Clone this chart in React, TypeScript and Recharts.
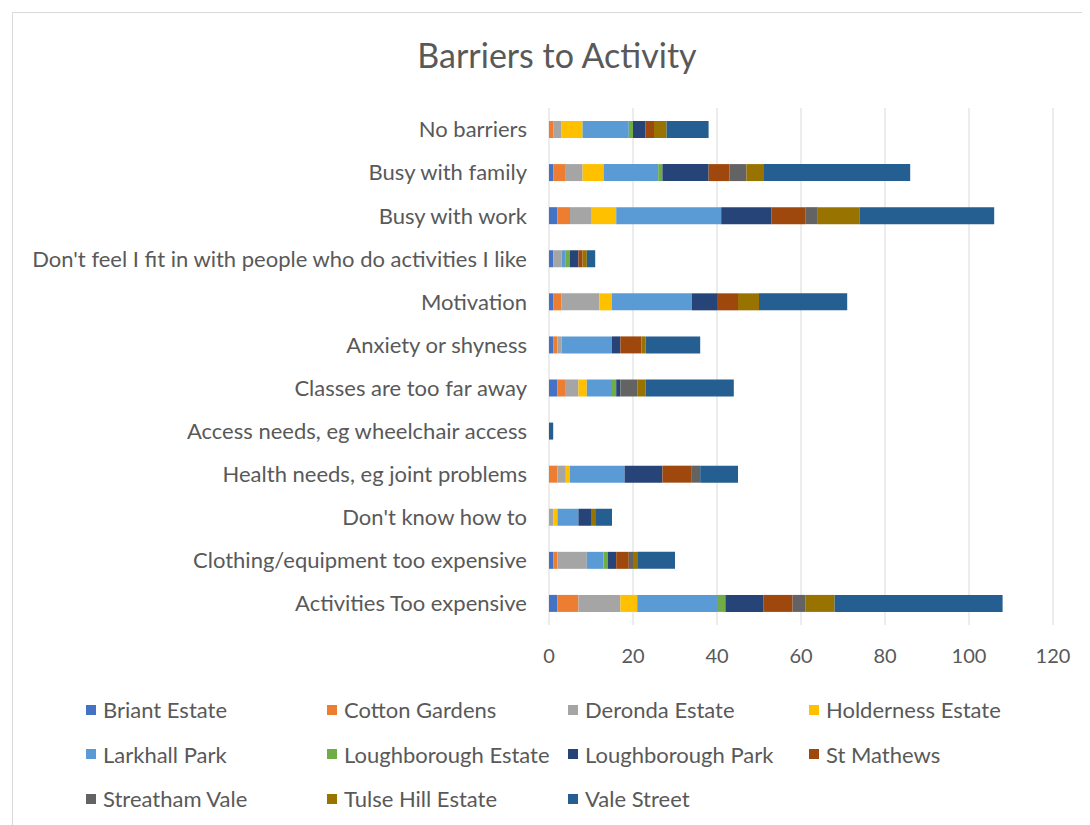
import React from 'react';
import { BarChart, Bar, XAxis, YAxis, CartesianGrid } from 'recharts';

const categories = [
  'No barriers',
  'Busy with family',
  'Busy with work',
  "Don't feel I fit in with people who do activities I like",
  'Motivation',
  'Anxiety or shyness',
  'Classes are too far away',
  'Access needs, eg wheelchair access',
  'Health needs, eg joint problems',
  "Don't know how to",
  'Clothing/equipment too expensive',
  'Activities Too expensive',
];

const briantEstate = [0, 1, 2, 1, 1, 1, 2, 0, 0, 0, 1, 2];
const cottonGardens = [1, 3, 3, 0, 2, 1, 2, 0, 2, 0, 1, 5];
const derondaEstate = [2, 4, 5, 2, 9, 1, 3, 0, 2, 1, 7, 10];
const holdernessEstate = [5, 5, 6, 0, 3, 0, 2, 0, 1, 1, 0, 4];
const larkhallPark = [11, 13, 25, 1, 19, 12, 6, 0, 13, 5, 4, 19];
const loughboroughEstate = [1, 1, 0, 1, 0, 0, 1, 0, 0, 0, 1, 2];
const loughboroughPark = [3, 11, 12, 2, 6, 2, 1, 0, 9, 3, 2, 9];
const stMathews = [2, 5, 8, 1, 5, 5, 0, 0, 7, 0, 3, 7];
const streathamVale = [0, 4, 3, 0, 0, 0, 4, 0, 2, 0, 1, 3];
const tulseHillEstate = [3, 4, 10, 1, 5, 1, 2, 0, 0, 1, 1, 7];
const valeStreet = [10, 35, 32, 2, 21, 13, 21, 1, 9, 4, 9, 40];

const xTicks = [0, 20, 40, 60, 80, 100, 120];

const series = [
  { name: 'Briant Estate', values: briantEstate, color: '#4472C4' },
  { name: 'Cotton Gardens', values: cottonGardens, color: '#ED7D31' },
  { name: 'Deronda Estate', values: derondaEstate, color: '#A5A5A5' },
  { name: 'Holderness Estate', values: holdernessEstate, color: '#FFC000' },
  { name: 'Larkhall Park', values: larkhallPark, color: '#5B9BD5' },
  { name: 'Loughborough Estate', values: loughboroughEstate, color: '#70AD47' },
  { name: 'Loughborough Park', values: loughboroughPark, color: '#264478' },
  { name: 'St Mathews', values: stMathews, color: '#9E480E' },
  { name: 'Streatham Vale', values: streathamVale, color: '#636363' },
  { name: 'Tulse Hill Estate', values: tulseHillEstate, color: '#997300' },
  { name: 'Vale Street', values: valeStreet, color: '#255E91' },
];

const data = categories.map((name, i) => {
  const row: Record<string, string | number> = { name };
  series.forEach(s => { row[s.name] = s.values[i]; });
  return row;
});

const font = 'Lato, "Open Sans", sans-serif';
const textColor = '#595959';

export default function App() {
  return <div style={{ position: 'relative', margin: '4px 0 0 4px', width: 1073, height: 825, border: '1px solid #d9d9d9', overflow: 'hidden', background: '#fff', fontFamily: font }}>
      <div style={{ position: 'absolute', left: 0, width: 1088, top: 21, textAlign: 'center', fontSize: 34, color: textColor }}>
        Barriers to Activity
      </div>
      <div style={{ position: 'absolute', left: 0, top: 0 }}>
        <BarChart width={1073} height={820} data={data} layout="vertical" barSize={17}
          margin={{ top: 95, right: 33, left: 0, bottom: 178 }}>
          <CartesianGrid horizontal={false} stroke="#d9d9d9" />
          <XAxis type="number" domain={[0, 120]} ticks={xTicks} axisLine={false} tickLine={false}
            tickSize={0} tickMargin={24} height={30} tick={{ fill: textColor, fontSize: 20, fontFamily: font }} />
          <YAxis type="category" dataKey="name" width={536} axisLine={false} tickLine={false}
            tickSize={0} tickMargin={22} interval={0} tick={{ fill: textColor, fontSize: 22, fontFamily: font }} />
          {series.map(s => <Bar key={s.name} dataKey={s.name} stackId="a" fill={s.color} isAnimationActive={false} />)}
        </BarChart>
      </div>
      {series.map((s, i) => {
        const col = i % 4;
        const row = Math.floor(i / 4);
        return <div key={s.name} style={{ position: 'absolute', left: 73 + col * 241, top: 683 + row * 44.5, display: 'flex', alignItems: 'center', fontSize: 22, color: textColor, whiteSpace: 'nowrap' }}>
            <span style={{ display: 'inline-block', width: 10, height: 10, background: s.color, marginRight: 7 }} />
            {s.name}
          </div>;
      })}
    </div>;
}
